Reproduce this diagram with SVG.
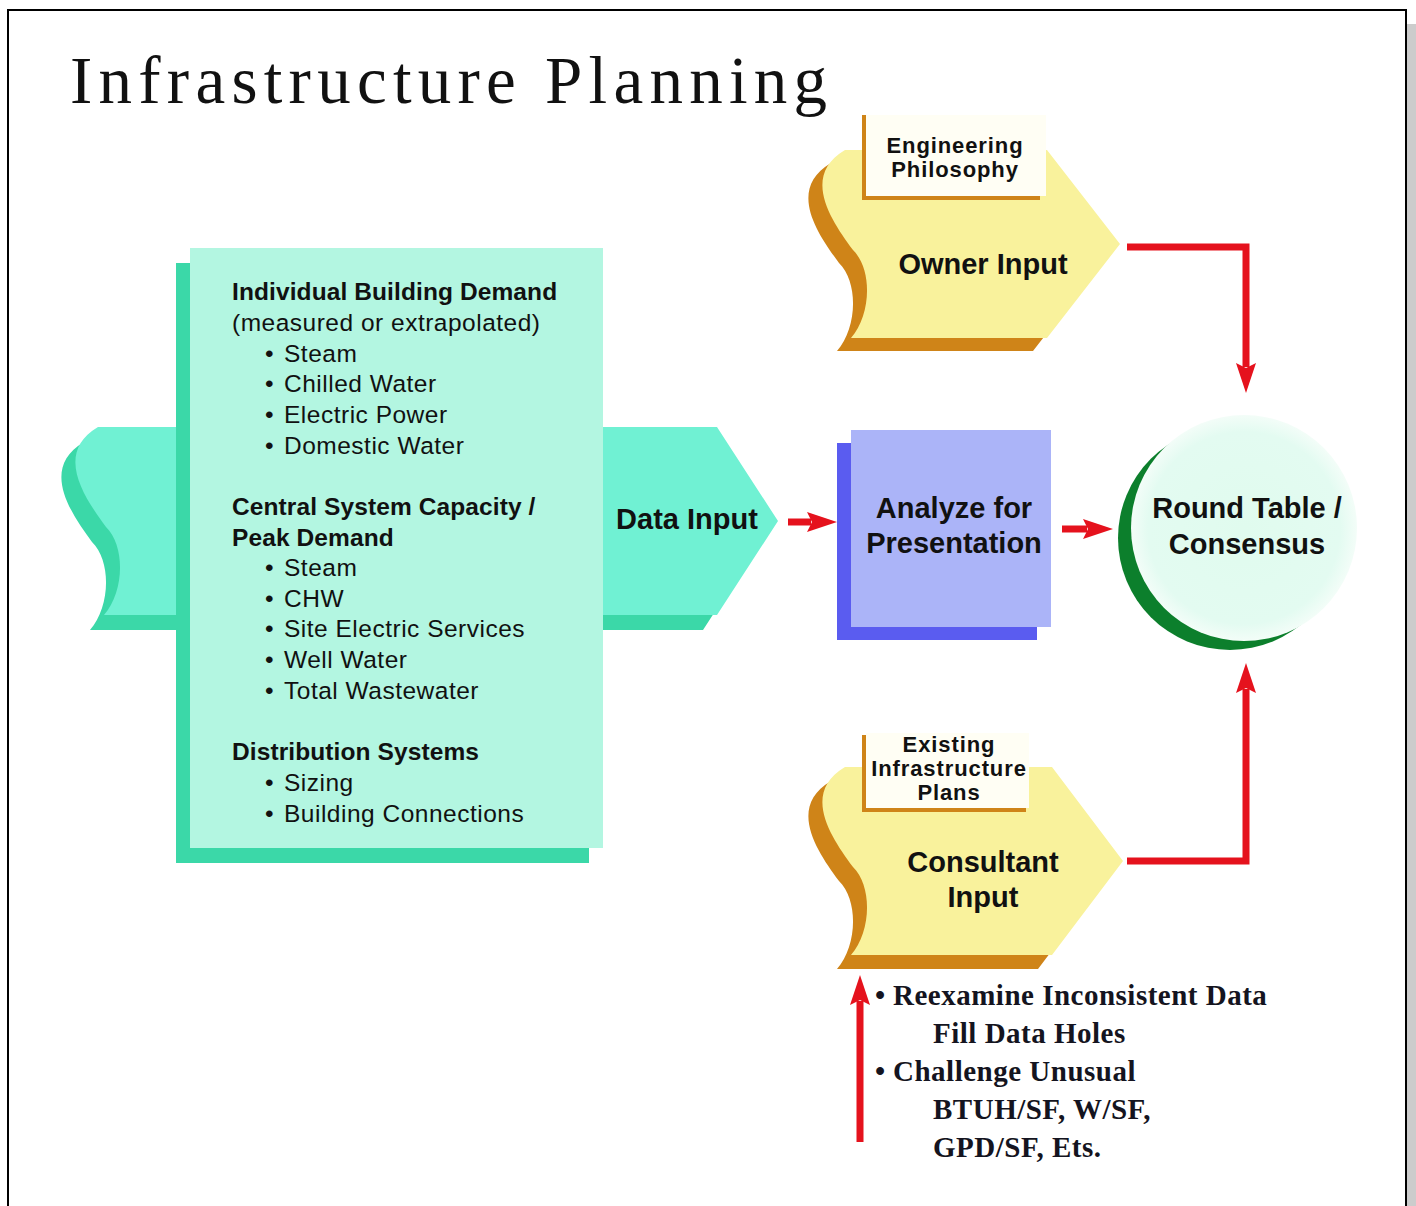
<svg xmlns="http://www.w3.org/2000/svg" width="1416" height="1206" viewBox="0 0 1416 1206">
<defs>
<style>
.lbl{font-family:"Liberation Sans",Arial,sans-serif;font-weight:bold;font-size:29px;text-anchor:middle;fill:#111}
.tab{font-family:"Liberation Sans",Arial,sans-serif;font-weight:bold;font-size:22px;letter-spacing:0.9px;text-anchor:middle;fill:#111}
.item{font-family:"Liberation Sans",Arial,sans-serif;font-size:24.5px;letter-spacing:0.5px;fill:#111}
.hd{font-weight:bold;letter-spacing:0.1px}
.ser{font-family:"Liberation Serif","Times New Roman",serif;font-weight:bold;font-size:29px;letter-spacing:0.5px;fill:#141420}
.conn{fill:none;stroke:#e5121d;stroke-width:7;stroke-linejoin:miter}
.tealS{fill:#3bd8a8}
.teal{fill:#70f1d3}
.yel{fill:#f9f29c}
.org{fill:#cf8418}
.tabbg{fill:#fffef4}
.tabln{fill:none;stroke:#cf8418;stroke-width:4}
</style>
<marker id="ah" markerUnits="userSpaceOnUse" markerWidth="30" markerHeight="20" viewBox="0 0 30 20" refX="4" refY="10" orient="auto">
<path d="M0,0 L30,10 L0,20 L5,10 Z" fill="#e5121d"/>
</marker>
<radialGradient id="rtg" cx="0.5" cy="0.5" r="0.5">
<stop offset="0" stop-color="#e0fbee"/>
<stop offset="0.85" stop-color="#e3fbf1"/>
<stop offset="1" stop-color="#f3fdf8"/>
</radialGradient>
<path id="banner" d="M98,427 L717,427 L778,521 L717,615 L104,615 C124,592 126,547 106,527 C84,497 54,453 98,427 Z"/>
<path id="owner" d="M845,150 L1047,150 L1120,244 L1047,338 L851,338 C871,315 873,270 853,250 C831,220 801,176 845,150 Z"/>
<path id="consult" d="M845,767 L1052,767 L1123,861 L1052,955 L851,955 C871,932 873,887 853,867 C831,837 801,793 845,767 Z"/>
</defs>

<rect x="0" y="0" width="1416" height="1206" fill="#ffffff"/>
<rect x="1407" y="24" width="9" height="1182" fill="#cccccc"/>
<path d="M8,1206 V10 H1406 V1206" fill="none" stroke="#000" stroke-width="2"/>

<text x="70" y="103" font-family="'Liberation Serif','Times New Roman',serif" font-size="67" textLength="757" lengthAdjust="spacing" fill="#111">Infrastructure Planning</text>

<g id="data-input">
<use href="#banner" class="tealS" transform="translate(-14,15)"/>
<use href="#banner" class="teal"/>
<rect x="176" y="263" width="413" height="600" class="tealS"/>
<rect x="190" y="248" width="413" height="600" fill="#b3f6e1"/>
<text class="item"><tspan class="hd" x="232" y="300">Individual Building Demand</tspan><tspan x="232" y="331">(measured or extrapolated)</tspan></text>
<text class="item">
<tspan x="265" y="361.5">•</tspan><tspan x="284" y="361.5">Steam</tspan>
<tspan x="265" y="392">•</tspan><tspan x="284" y="392">Chilled Water</tspan>
<tspan x="265" y="422.5">•</tspan><tspan x="284" y="422.5">Electric Power</tspan>
<tspan x="265" y="454">•</tspan><tspan x="284" y="454">Domestic Water</tspan>
</text>
<text class="item hd"><tspan x="232" y="515">Central System Capacity /</tspan><tspan x="232" y="546">Peak Demand</tspan></text>
<text class="item">
<tspan x="265" y="576">•</tspan><tspan x="284" y="576">Steam</tspan>
<tspan x="265" y="607">•</tspan><tspan x="284" y="607">CHW</tspan>
<tspan x="265" y="637">•</tspan><tspan x="284" y="637">Site Electric Services</tspan>
<tspan x="265" y="668">•</tspan><tspan x="284" y="668">Well Water</tspan>
<tspan x="265" y="699">•</tspan><tspan x="284" y="699">Total Wastewater</tspan>
</text>
<text class="item hd" x="232" y="760">Distribution Systems</text>
<text class="item">
<tspan x="265" y="791">•</tspan><tspan x="284" y="791">Sizing</tspan>
<tspan x="265" y="822">•</tspan><tspan x="284" y="822">Building Connections</tspan>
</text>
<text class="lbl" x="687" y="529" font-size="25">Data Input</text>
</g>

<g id="analyze">
<rect x="837" y="443" width="200" height="197" fill="#5a5cf0"/>
<rect x="851" y="430" width="200" height="197" fill="#abb4f8"/>
<text class="lbl" x="954" y="518">Analyze for</text>
<text class="lbl" x="954" y="553">Presentation</text>
</g>

<g id="round-table">
<circle cx="1230" cy="538" r="112" fill="#0c7f2c"/>
<circle cx="1244" cy="528" r="113" fill="url(#rtg)"/>
<text class="lbl" x="1247" y="518">Round Table /</text>
<text class="lbl" x="1247" y="554">Consensus</text>
</g>

<g id="owner-input">
<use href="#owner" class="org" transform="translate(-14,13)"/>
<use href="#owner" class="yel"/>
<rect x="866" y="115" width="180" height="81" class="tabbg"/>
<path d="M864,115 V198 H1040" class="tabln"/>
<text class="tab" x="955" y="153">Engineering</text>
<text class="tab" x="955" y="177">Philosophy</text>
<text class="lbl" x="983" y="274">Owner Input</text>
</g>

<g id="consultant-input">
<use href="#consult" class="org" transform="translate(-14,14)"/>
<use href="#consult" class="yel"/>
<rect x="866" y="733" width="163" height="75" class="tabbg"/>
<path d="M864,735 V810 H1026" class="tabln"/>
<text class="tab" x="949" y="752">Existing</text>
<text class="tab" x="949" y="776">Infrastructure</text>
<text class="tab" x="949" y="800">Plans</text>
<text class="lbl" x="983" y="872">Consultant</text>
<text class="lbl" x="983" y="907">Input</text>
</g>

<g id="review-notes">
<text class="ser"><tspan x="875" y="1005">•</tspan><tspan x="893" y="1005">Reexamine Inconsistent Data</tspan><tspan x="933" y="1043">Fill Data Holes</tspan><tspan x="875" y="1081">•</tspan><tspan x="893" y="1081">Challenge Unusual</tspan><tspan x="933" y="1119">BTUH/SF, W/SF,</tspan><tspan x="933" y="1157">GPD/SF, Ets.</tspan></text>
</g>

<g id="connectors">
<path class="conn" d="M788,522 H811" marker-end="url(#ah)"/>
<path class="conn" d="M1062,529 H1087" marker-end="url(#ah)"/>
<path class="conn" d="M1127,247 H1246 V367" marker-end="url(#ah)"/>
<path class="conn" d="M1127,861 H1246 V689" marker-end="url(#ah)"/>
<path class="conn" d="M860,1142 V1001" marker-end="url(#ah)"/>
</g>
</svg>
